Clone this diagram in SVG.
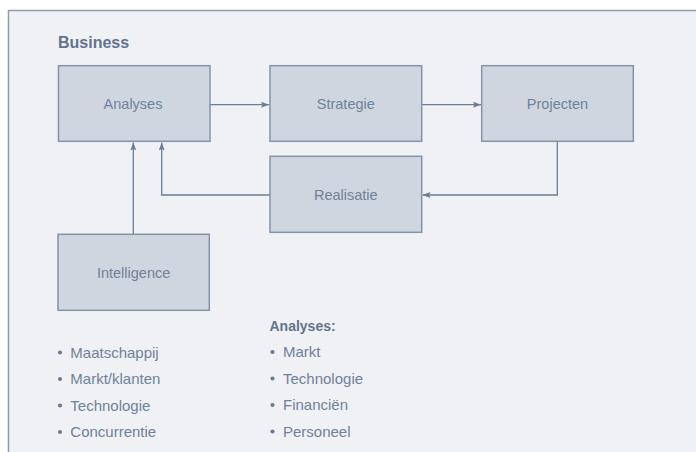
<svg xmlns="http://www.w3.org/2000/svg" width="696" height="452" viewBox="0 0 696 452">
<defs>
<style>
.panel{fill:#eff1f5;stroke:none}
.pborder{fill:none;stroke:#8f9db1;stroke-width:1.5}
.box{fill:#cfd6df;stroke:#8593a8;stroke-width:1.5}
.lbl{font-family:"Liberation Sans",Arial,sans-serif;font-size:14.5px;fill:#70819a;text-anchor:middle}
.title{font-family:"Liberation Sans",Arial,sans-serif;font-size:16px;font-weight:bold;fill:#62738c}
.head{font-family:"Liberation Sans",Arial,sans-serif;font-size:14px;font-weight:bold;fill:#62738c}
.item{font-family:"Liberation Sans",Arial,sans-serif;font-size:15px;fill:#70819a}
.dot{fill:#6b7d96}
.conn{fill:none;stroke:#6b7d96;stroke-width:1.3}
</style>
<marker id="arr" viewBox="0 0 8 6" refX="8" refY="3" markerWidth="8" markerHeight="6" markerUnits="userSpaceOnUse" orient="auto">
<path d="M0,0 L8,3 L0,6 L1.5,3 Z" fill="#6b7d96"/>
</marker>
</defs>
<rect class="panel" x="8.5" y="10.5" width="688" height="442"/>
<path class="pborder" d="M8.5,452 L8.5,10.5 L696,10.5"/>
<text class="title" x="58" y="47.5">Business</text>
<g id="connectors">
<path class="conn" d="M210,104.7 L269,104.7" marker-end="url(#arr)"/>
<path class="conn" d="M421.7,104.7 L481,104.7" marker-end="url(#arr)"/>
<path class="conn" d="M557.3,141.3 L557.3,195 L422.5,195" marker-end="url(#arr)"/>
<path class="conn" d="M270,195 L161.7,195 L161.7,142.5" marker-end="url(#arr)"/>
<path class="conn" d="M133.3,234.3 L133.3,142.5" marker-end="url(#arr)"/>
</g>
<g id="analyses">
<rect class="box" x="58.5" y="65.7" width="151.5" height="75.6"/>
<text class="lbl" x="133" y="109.3">Analyses</text>
</g>
<g id="strategie">
<rect class="box" x="270" y="65.7" width="151.7" height="75.6"/>
<text class="lbl" x="345.8" y="109.3">Strategie</text>
</g>
<g id="projecten">
<rect class="box" x="481.7" y="65.7" width="151.6" height="75.6"/>
<text class="lbl" x="557.5" y="109.3">Projecten</text>
</g>
<g id="realisatie">
<rect class="box" x="270" y="156.3" width="151.7" height="76"/>
<text class="lbl" x="345.8" y="200">Realisatie</text>
</g>
<g id="intelligence">
<rect class="box" x="58" y="234.3" width="151.3" height="76"/>
<text class="lbl" x="133.6" y="278.3">Intelligence</text>
</g>
<g id="list-intelligence">
<circle class="dot" cx="60" cy="352.5" r="2.1"/>
<text class="item" x="70.3" y="357.5">Maatschappij</text>
<circle class="dot" cx="60" cy="379" r="2.1"/>
<text class="item" x="70.3" y="384">Markt/klanten</text>
<circle class="dot" cx="60" cy="405.5" r="2.1"/>
<text class="item" x="70.3" y="410.5">Technologie</text>
<circle class="dot" cx="60" cy="432" r="2.1"/>
<text class="item" x="70.3" y="437">Concurrentie</text>
</g>
<g id="list-analyses">
<text class="head" x="269.5" y="331">Analyses:</text>
<circle class="dot" cx="272.5" cy="352" r="2.1"/>
<text class="item" x="283" y="357">Markt</text>
<circle class="dot" cx="272.5" cy="378.5" r="2.1"/>
<text class="item" x="283" y="383.5">Technologie</text>
<circle class="dot" cx="272.5" cy="405" r="2.1"/>
<text class="item" x="283" y="410">Financiën</text>
<circle class="dot" cx="272.5" cy="431.5" r="2.1"/>
<text class="item" x="283" y="436.5">Personeel</text>
</g>
</svg>
